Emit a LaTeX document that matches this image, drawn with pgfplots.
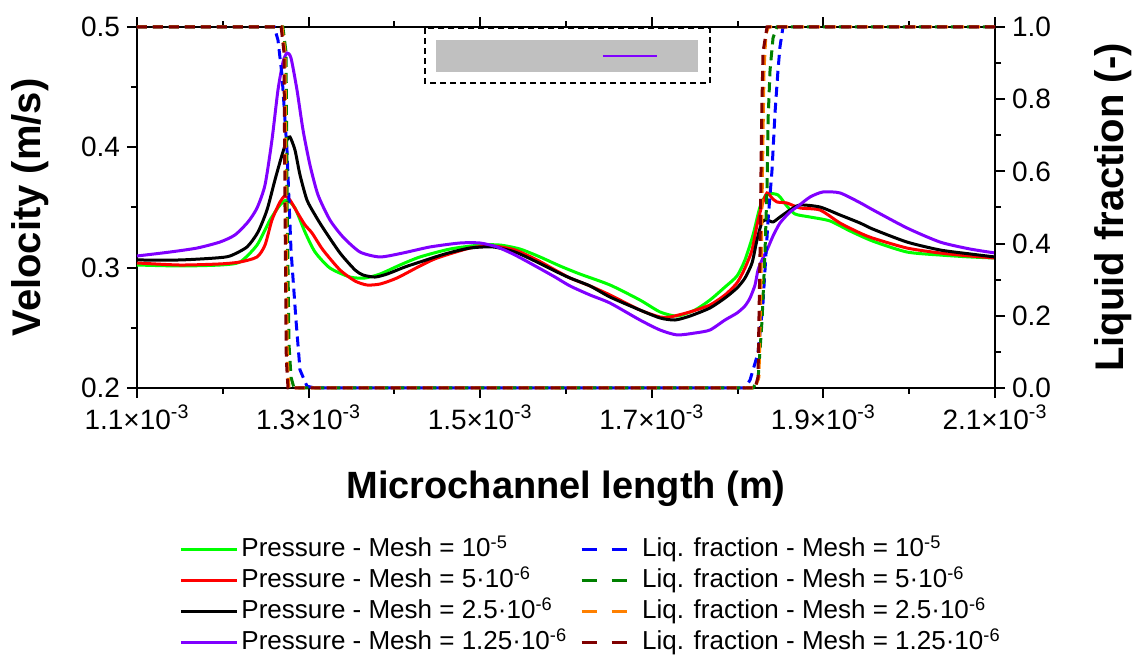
\documentclass[border=0pt]{standalone}
\usepackage{fontspec}
\setmainfont{Liberation Sans}
\usepackage{pgfplots}
\usepackage{pgfplotstable}
\pgfplotsset{compat=1.18}

\definecolor{cgreen}{RGB}{0,255,0}
\definecolor{cred}{RGB}{255,0,0}
\definecolor{cviolet}{RGB}{128,0,255}
\definecolor{cblue}{RGB}{0,0,255}
\definecolor{cdkgreen}{RGB}{0,128,0}
\definecolor{corange}{RGB}{255,128,0}
\definecolor{cmaroon}{RGB}{128,0,0}
\definecolor{cgray}{RGB}{192,192,192}

% velocity, mesh 1e-5
\pgfplotstableread{
x v
1.1000 0.3022
1.1501 0.3014
1.1967 0.3022
1.2200 0.3047
1.2399 0.3188
1.2550 0.3396
1.2667 0.3521
1.2748 0.3562
1.2841 0.3496
1.2958 0.3296
1.3075 0.3130
1.3249 0.2997
1.3483 0.2922
1.3657 0.2914
1.3832 0.2947
1.4065 0.3022
1.4298 0.3089
1.4648 0.3155
1.4998 0.3188
1.5231 0.3188
1.5464 0.3155
1.5697 0.3089
1.5930 0.3014
1.6163 0.2947
1.6513 0.2856
1.6862 0.2731
1.7096 0.2632
1.7294 0.2598
1.7503 0.2648
1.7678 0.2731
1.7853 0.2839
1.7993 0.2931
1.8086 0.3064
1.8180 0.3272
1.8261 0.3504
1.8343 0.3612
1.8471 0.3604
1.8564 0.3521
1.8669 0.3446
1.8844 0.3421
1.9077 0.3388
1.9310 0.3305
1.9578 0.3220
1.9974 0.3130
2.0359 0.3105
2.0709 0.3089
2.1000 0.3080
}\velA

% velocity, mesh 5e-6
\pgfplotstableread{
x v
1.1000 0.3039
1.1501 0.3022
1.1967 0.3031
1.2200 0.3047
1.2399 0.3089
1.2492 0.3188
1.2573 0.3396
1.2667 0.3546
1.2725 0.3596
1.2783 0.3562
1.2865 0.3463
1.2958 0.3355
1.3040 0.3288
1.3168 0.3147
1.3366 0.2981
1.3541 0.2889
1.3681 0.2856
1.3832 0.2864
1.4030 0.2914
1.4298 0.3014
1.4497 0.3080
1.4881 0.3163
1.5149 0.3180
1.5406 0.3147
1.5662 0.3064
1.5872 0.2981
1.6047 0.2914
1.6280 0.2848
1.6513 0.2773
1.6862 0.2648
1.7096 0.2590
1.7212 0.2590
1.7445 0.2632
1.7678 0.2690
1.7853 0.2773
1.7993 0.2873
1.8086 0.2997
1.8168 0.3147
1.8226 0.3355
1.8285 0.3521
1.8343 0.3621
1.8401 0.3579
1.8459 0.3546
1.8576 0.3537
1.8727 0.3496
1.8960 0.3479
1.9193 0.3371
1.9427 0.3288
1.9578 0.3245
1.9974 0.3163
2.0359 0.3122
2.0709 0.3097
2.1000 0.3080
}\velB

% velocity, mesh 2.5e-6
\pgfplotstableread{
x v
1.1000 0.3064
1.1501 0.3064
1.1909 0.3080
1.2084 0.3097
1.2282 0.3172
1.2410 0.3296
1.2515 0.3479
1.2608 0.3729
1.2690 0.3936
1.2748 0.4061
1.2783 0.4086
1.2841 0.3978
1.2900 0.3770
1.2981 0.3562
1.3075 0.3438
1.3168 0.3330
1.3366 0.3122
1.3541 0.2981
1.3634 0.2939
1.3774 0.2922
1.3914 0.2947
1.4124 0.3006
1.4298 0.3047
1.4590 0.3114
1.4881 0.3163
1.5149 0.3172
1.5406 0.3130
1.5662 0.3047
1.5872 0.2972
1.6047 0.2914
1.6280 0.2848
1.6513 0.2756
1.6862 0.2648
1.7096 0.2582
1.7270 0.2565
1.7445 0.2598
1.7678 0.2665
1.7853 0.2748
1.7993 0.2831
1.8086 0.2914
1.8168 0.3039
1.8226 0.3230
1.8285 0.3380
1.8343 0.3396
1.8413 0.3380
1.8494 0.3421
1.8611 0.3479
1.8727 0.3521
1.8960 0.3504
1.9193 0.3438
1.9427 0.3371
1.9578 0.3320
1.9974 0.3213
2.0359 0.3147
2.0709 0.3114
2.1000 0.3089
}\velC

% velocity, mesh 1.25e-6
\pgfplotstableread{
x v
1.1000 0.3097
1.1385 0.3130
1.1699 0.3163
1.1967 0.3213
1.2142 0.3272
1.2294 0.3380
1.2399 0.3496
1.2492 0.3687
1.2573 0.4061
1.2643 0.4476
1.2702 0.4709
1.2748 0.4784
1.2795 0.4742
1.2865 0.4476
1.2935 0.4144
1.3016 0.3853
1.3110 0.3604
1.3249 0.3396
1.3401 0.3255
1.3599 0.3130
1.3832 0.3089
1.4100 0.3122
1.4415 0.3172
1.4765 0.3205
1.4998 0.3205
1.5196 0.3172
1.5406 0.3105
1.5662 0.3006
1.5872 0.2922
1.6047 0.2848
1.6280 0.2773
1.6513 0.2706
1.6862 0.2565
1.7096 0.2482
1.7294 0.2441
1.7503 0.2457
1.7678 0.2482
1.7853 0.2565
1.7993 0.2623
1.8086 0.2682
1.8145 0.2748
1.8203 0.2856
1.8238 0.2981
1.8285 0.3064
1.8343 0.3147
1.8413 0.3263
1.8494 0.3371
1.8611 0.3463
1.8692 0.3504
1.8844 0.3587
1.8995 0.3629
1.9193 0.3621
1.9427 0.3540
1.9578 0.3480
1.9974 0.3330
2.0359 0.3213
2.0709 0.3155
2.1000 0.3122
}\velD

% liquid fraction
\pgfplotstableread{
x f
1.1000 1
1.2600 1
1.2643 0.964
1.2690 0.867
1.2748 0.659
1.2795 0.382
1.2853 0.188
1.2900 0.05
1.2981 0.005
1.3075 0
1.8086 0
1.8145 0.022
1.8238 0.097
1.8296 0.236
1.8355 0.465
1.8401 0.603
1.8436 0.762
1.8471 0.881
1.8494 0.945
1.8529 1
2.1000 1
}\lfA

\pgfplotstableread{
x f
1.1000 1
1.2700 1
1.2737 0.93
1.2750 0.5
1.2772 0.12
1.2795 0.03
1.2830 0
1.8180 0
1.8238 0.022
1.8285 0.188
1.8319 0.374
1.8343 0.557
1.8355 0.742
1.8378 0.88
1.8413 0.97
1.8459 1
2.1000 1
}\lfB

\pgfplotstableread{
x f
1.1000 1
1.2690 1
1.2725 0.93
1.2737 0.5
1.2752 0.08
1.2772 0
1.8203 0
1.8249 0.03
1.8273 0.30
1.8290 0.6
1.8308 0.88
1.8330 0.98
1.8360 1
2.1000 1
}\lfC

\pgfplotstableread{
x f
1.1000 1
1.2680 1
1.2713 0.93
1.2725 0.5
1.2740 0.08
1.2760 0
1.8203 0
1.8238 0.03
1.8261 0.37
1.8280 0.74
1.8296 0.93
1.8343 1
2.1000 1
}\lfD

\begin{document}
\begin{tikzpicture}
\useasboundingbox (-68.5pt,-135pt) rectangle (500pt,194pt);
\pgfplotsset{
  base/.style={
    scale only axis, width=429pt, height=180.5pt,
    xmin=1.1, xmax=2.1,
    tick align=outside,
    major tick length=5pt, minor tick length=3pt,
    axis line style={line width=1pt},
    every tick/.style={black, line width=1pt},
    tick label style={font=\fontsize{14}{16}\selectfont},
    /pgf/number format/assume math mode=true,
    yticklabel style={/pgf/number format/fixed, /pgf/number format/fixed zerofill, /pgf/number format/precision=1},
  },
  vel/.style={line width=1.5pt, smooth, tension=0.4},
  lf/.style={line width=1.5pt, dash pattern=on 5pt off 3pt},
}
\begin{axis}[base,
  ymin=0.2, ymax=0.5,
  ytick={0.2,0.3,0.4,0.5}, minor y tick num=1, ytick pos=left,
  xtick={1.1,1.3,1.5,1.7,1.9,2.1}, minor x tick num=1, xtick pos=both,
  xticklabels={1.1×10\textsuperscript{-3},1.3×10\textsuperscript{-3},1.5×10\textsuperscript{-3},1.7×10\textsuperscript{-3},1.9×10\textsuperscript{-3},2.1×10\textsuperscript{-3}},
  xlabel={Microchannel length (m)},
  ylabel={Velocity (m/s)},
  xlabel style={font=\fontsize{19}{22}\selectfont\bfseries, at={(axis description cs:0.5,-0.21)}, anchor=north},
  ylabel style={font=\fontsize{20}{23}\selectfont\bfseries, at={(axis description cs:-0.125,0.5)}, anchor=center},
]
\addplot[vel, cgreen] table {\velA};
\addplot[vel, cred] table {\velB};
\addplot[vel, black] table {\velC};
\addplot[vel, cviolet] table {\velD};
\draw[black, line width=0.8pt, dash pattern=on 3pt off 2pt] (axis cs:1.4357,0.4990) rectangle (axis cs:1.7678,0.4535);
\fill[cgray] (axis cs:1.4485,0.4892) rectangle (axis cs:1.7538,0.4626);
\draw[cviolet, line width=0.8pt] (axis cs:1.6431,0.4759) -- (axis cs:1.7061,0.4759);
\end{axis}
\begin{axis}[base,
  clip=false,
  ymin=0, ymax=1,
  ytick={0,0.2,0.4,0.6,0.8,1}, minor y tick num=1,
  axis y line*=right, axis x line=none,
  ylabel={Liquid fraction (-)},
  ylabel style={font=\fontsize{20}{23}\selectfont\bfseries, at={(axis description cs:1.1375,0.5)}, anchor=center},
  legend columns=2,
  legend cell align=left,
  legend image code/.code={\draw[#1] (0pt,0pt) -- (28pt,0pt);},
  legend style={at={(axis description cs:0.042,-0.397)}, anchor=north west, draw=none, fill=none,
    font=\fontsize{13}{15}\selectfont, row sep=1.5pt,
    nodes={inner xsep=1.5pt, inner ysep=0.5pt, text height=10pt, text depth=3pt},
    /tikz/every even column/.append style={column sep=5pt}},
]
\addplot[lf, cblue, forget plot] table {\lfA};
\addplot[lf, cdkgreen, forget plot] table {\lfB};
\addplot[lf, corange, forget plot] table {\lfC};
\addplot[lf, cmaroon, forget plot] table {\lfD};
\addlegendimage{cgreen, line width=1.5pt}
\addlegendentry{Pressure - Mesh = 10\textsuperscript{-5}}
\addlegendimage{cblue, line width=1.5pt, dash pattern=on 7.5pt off 7.5pt}
\addlegendentry{Liq. fraction - Mesh = 10\textsuperscript{-5}}
\addlegendimage{cred, line width=1.5pt}
\addlegendentry{Pressure - Mesh = 5·10\textsuperscript{-6}}
\addlegendimage{cdkgreen, line width=1.5pt, dash pattern=on 7.5pt off 7.5pt}
\addlegendentry{Liq. fraction - Mesh = 5·10\textsuperscript{-6}}
\addlegendimage{black, line width=1.5pt}
\addlegendentry{Pressure - Mesh = 2.5·10\textsuperscript{-6}}
\addlegendimage{corange, line width=1.5pt, dash pattern=on 7.5pt off 7.5pt}
\addlegendentry{Liq. fraction - Mesh = 2.5·10\textsuperscript{-6}}
\addlegendimage{cviolet, line width=1.5pt}
\addlegendentry{Pressure - Mesh = 1.25·10\textsuperscript{-6}}
\addlegendimage{cmaroon, line width=1.5pt, dash pattern=on 7.5pt off 7.5pt}
\addlegendentry{Liq. fraction - Mesh = 1.25·10\textsuperscript{-6}}
\end{axis}
\end{tikzpicture}
\end{document}
